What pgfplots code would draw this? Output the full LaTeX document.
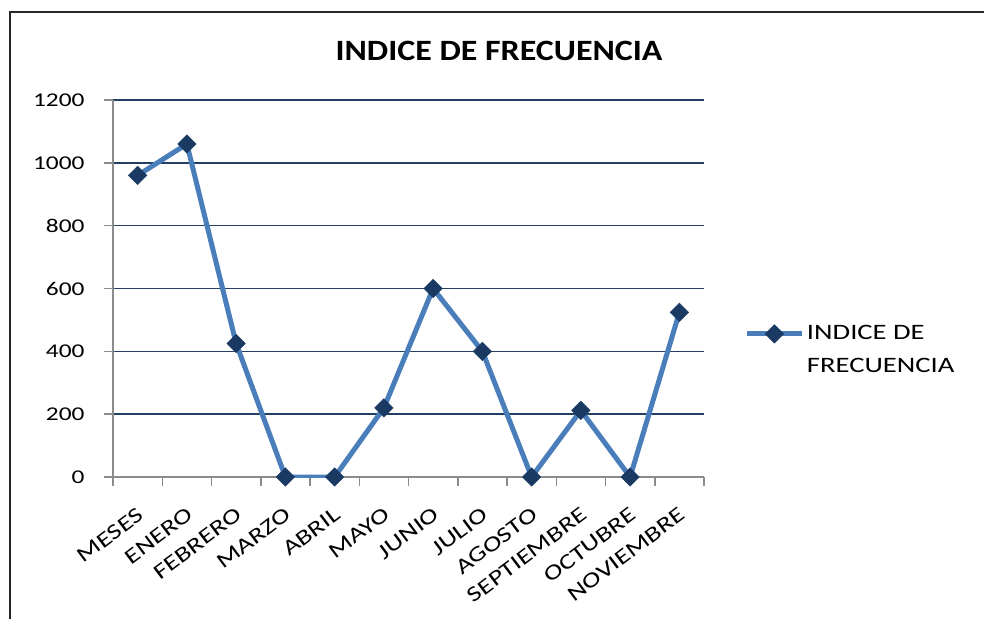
\documentclass[border=0pt]{standalone}
\usepackage{fontspec}
\setmainfont{Carlito}
\newfontfamily\chartfont[FakeStretch=1.3]{Carlito}
\newfontfamily\titlefont[FakeStretch=1.15]{Carlito}
\usepackage{pgfplots}
\pgfplotsset{compat=1.18}
\definecolor{lineblue}{HTML}{4A7EBB}
\definecolor{markblue}{HTML}{1B3A63}
\definecolor{gridblue}{HTML}{243F66}
\definecolor{axisgray}{HTML}{8C8C8C}
\begin{document}
\begin{tikzpicture}[x=1pt,y=1pt]
\useasboundingbox (0,0) rectangle (984,619);
\draw[line width=2pt, black!85] (10,0) -- (10,607) -- (984,607);
\node[font=\titlefont\bfseries\fontsize{29.5}{32}\selectfont] at (499,568) {INDICE DE FRECUENCIA};
\begin{axis}[
  at={(113pt,142pt)}, anchor=south west,
  scale only axis, width=591pt, height=377pt,
  xmin=-0.5, xmax=11.5, ymin=0, ymax=1200,
  axis x line*=bottom, axis y line*=left,
  x axis line style={-, draw=axisgray, line width=1.5pt},
  y axis line style={-, draw=axisgray, line width=1.5pt},
  ytick={0,200,...,1200},
  ymajorgrids, grid style={gridblue, line width=1.5pt},
  xtick={-0.5,0.5,...,11.5}, xticklabels={},
  extra x ticks={0,1,...,11},
  extra x tick labels={MESES,ENERO,FEBRERO,MARZO,ABRIL,MAYO,JUNIO,JULIO,AGOSTO,SEPTIEMBRE,OCTUBRE,NOVIEMBRE},
  extra x tick style={major tick length=0pt, grid=none},
  tick align=outside, major tick length=9pt,
  tick style={axisgray, line width=1.5pt},
  /pgf/number format/assume math mode=true,
  /pgf/number format/1000 sep={},
  yticklabel style={font=\chartfont\fontsize{19.5}{22}\selectfont, xshift=-16pt},
  xticklabel style={font=\chartfont\fontsize{21.5}{22}\selectfont, xshift=6pt, yshift=-33pt, rotate=37, anchor=east},
  legend style={draw=none, fill=none, at={(1.069,0.337)}, anchor=west, inner sep=0pt,
    font=\chartfont\fontsize{22}{33}\selectfont, cells={anchor=west, align=left},
    /tikz/every even column/.append style={column sep=8pt}},
  legend image code/.code={\draw[#1, yshift=16pt, mark repeat=2, mark phase=2] plot coordinates {(0pt,0pt)(27pt,0pt)(55pt,0pt)};},
]
\addplot[lineblue, line width=5pt, mark=square*, mark size=6.5pt,
  mark options={rotate=45, fill=markblue, draw=markblue, line width=0.5pt}]
  coordinates {(0,960) (1,1060) (2,425) (3,0) (4,0) (5,220) (6,600) (7,400) (8,0) (9,212) (10,0) (11,524)};
\addlegendentry{INDICE DE\\FRECUENCIA}
\end{axis}
\end{tikzpicture}
\end{document}
